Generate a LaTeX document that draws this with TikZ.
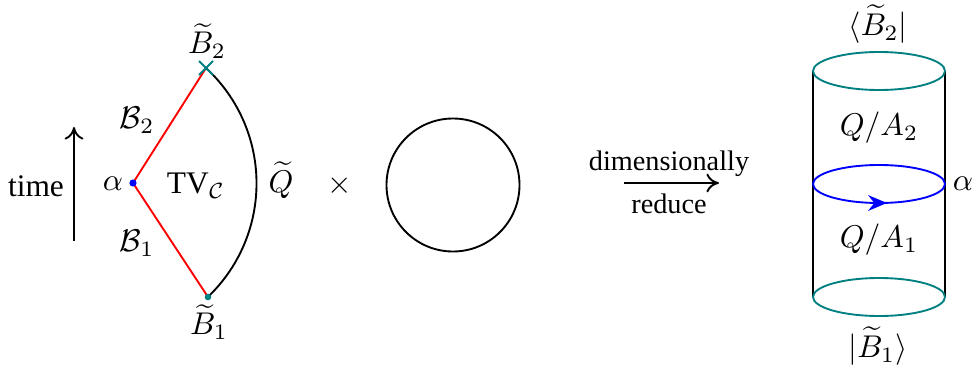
\documentclass[tikz,border=0pt]{standalone}
\usepackage{fontspec}
\setmainfont{Liberation Serif}
\usetikzlibrary{arrows.meta,calc}
\begin{document}
\begin{tikzpicture}[x=0.3183pt,y=-0.3183pt,
  line/.style={semithick},
  lbl/.style={inner sep=0pt,outer sep=0pt}]
\useasboundingbox (0,0) rectangle (972,370);
% time arrow
\coordinate (tb) at (74,241);
\coordinate (tt) at (74,127);
\draw[line,-{To[length=4pt,width=6pt]}] (tb) -- (tt);
\node[lbl] (time) at (36,186) {time};
% wedge
\coordinate (al) at (133,183);
\coordinate (b2) at (206,68);
\coordinate (b1) at (208,297);
\draw[line,red] (al) -- (b2);
\draw[line,red] (al) -- (b1);
\draw[line] (b2) arc[start angle=-47.3,end angle=47.3,radius=157];
\fill[blue] (al) circle[radius=3.6];
\fill[teal] (b1) circle[radius=3.3];
\draw[line,teal] ($(b2)+(-7,-7)$) -- ($(b2)+(7,7)$);
\draw[line,teal] ($(b2)+(-7,7)$) -- ($(b2)+(7,-7)$);
\node[lbl] (alab) at (113,184) {$\alpha$};
\node[lbl] (b2lab) at (207,41) {$\widetilde{B}_2$};
\node[lbl] (b1lab) at (209,322) {$\widetilde{B}_1$};
\node[lbl] (B2) at (137,120) {$\mathcal{B}_2$};
\node[lbl] (B1) at (137,243) {$\mathcal{B}_1$};
\node[lbl] (tv) at (196,186) {$\mathrm{TV}_{\mathcal{C}}$};
\node[lbl] (qt) at (281,180) {$\widetilde{Q}$};
\node[lbl] (times) at (340,186) {$\times$};
% circle
\node[draw,line,circle,minimum size=133*0.3183pt,inner sep=0pt] (circ) at (453,185) {};
% dimensional reduction arrow
\coordinate (ra) at (624,183);
\coordinate (rb) at (719,183);
\draw[line,-{To[length=4pt,width=6pt]}] (ra) -- (rb);
\node[lbl,font=\small] (dim) at (669,164) {dimensionally};
\node[lbl,font=\small] (red) at (669,204) {reduce};
% cylinder
\coordinate (ctl) at (813,71);
\coordinate (cbl) at (813,297);
\coordinate (ctr) at (945,71);
\coordinate (cbr) at (945,297);
\draw[line] (ctl) -- (cbl);
\draw[line] (ctr) -- (cbr);
\draw[line,teal] (879,71) ellipse[x radius=66,y radius=19];
\draw[line,teal] (879,297) ellipse[x radius=66,y radius=19];
\draw[line,blue] (879,184) ellipse[x radius=66,y radius=19];
\coordinate (ma) at (872,203);
\coordinate (mb) at (887,203);
\draw[line,blue,-{Stealth[length=6pt,width=5pt]}] (ma) -- (mb);
\node[lbl] (top) at (878,24) {$\langle\widetilde{B}_2|$};
\node[lbl] (bot) at (878,346) {$|\widetilde{B}_1\rangle$};
\node[lbl] (qa2) at (879,128) {$Q/A_2$};
\node[lbl] (qa1) at (879,240) {$Q/A_1$};
\node[lbl] (al2) at (963,184) {$\alpha$};
\end{tikzpicture}
\end{document}
